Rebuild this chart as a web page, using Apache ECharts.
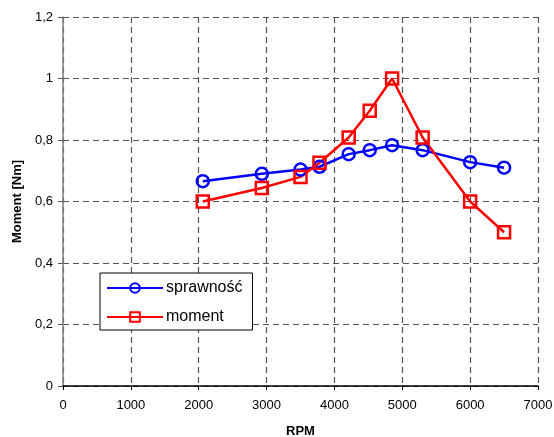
<!DOCTYPE html>
<html>
<head>
<meta charset="utf-8">
<script src="https://cdn.jsdelivr.net/npm/echarts@6/dist/echarts.min.js"></script>
<style>
  html, body { margin: 0; padding: 0; background: #fff; }
  #chart { width: 554px; height: 437px; }
</style>
</head>
<body>
<div id="chart"></div>
<script>
// Engine speed (RPM) for each measurement point
const rpm = [2060, 2930, 3500, 3780, 4210, 4520, 4850, 5300, 6000, 6500];
// Efficiency series
const sprawnosc = [0.666, 0.690, 0.704, 0.713, 0.754, 0.767, 0.783, 0.767, 0.728, 0.710];
// Torque series [Nm]
const moment = [0.600, 0.644, 0.680, 0.726, 0.808, 0.895, 1.000, 0.808, 0.600, 0.500];

const seriesNames = ['sprawność', 'moment'];
const xTicks = { min: 0, max: 7000, interval: 1000 };
const yTicks = { min: 0, max: 1.2, interval: 0.2 };

const FONT = '"Liberation Sans", Arial, sans-serif';

function pairs(xs, ys) {
  return xs.map((x, i) => [x, ys[i]]);
}

function fmtComma(v) {
  return String(Math.round(v * 10) / 10).replace('.', ',');
}

function fmtPlain(v) {
  return String(Math.round(v));
}

const chart = echarts.init(document.getElementById('chart'), null, { renderer: 'canvas' });

chart.setOption({
  backgroundColor: '#ffffff',
  animation: false,
  grid: { left: 63, right: 16, top: 17, bottom: 51, containLabel: false, outerBoundsMode: 'none' },
  legend: {
    orient: 'vertical',
    left: 100,
    top: 273,
    data: seriesNames,
    backgroundColor: '#ffffff',
    borderColor: '#000000',
    borderWidth: 1,
    borderRadius: 0,
    padding: [7, 10, 5, 6],
    itemWidth: 56,
    itemHeight: 12,
    itemGap: 13,
    textStyle: { fontFamily: FONT, fontSize: 16, color: '#000000', padding: [0, 0, 0, -2] }
  },
  xAxis: {
    type: 'value',
    min: xTicks.min,
    max: xTicks.max,
    interval: xTicks.interval,
    name: 'RPM',
    nameLocation: 'middle',
    nameGap: 39,
    nameTextStyle: { fontFamily: FONT, fontSize: 13, fontWeight: 'bold', color: '#000000' },
    axisLine: { show: true, onZero: false, lineStyle: { color: '#000000', width: 1.5 } },
    axisTick: { show: true, length: 4, lineStyle: { color: '#000000' } },
    axisLabel: { fontFamily: FONT, fontSize: 13, color: '#000000', margin: 13, formatter: fmtPlain },
    splitLine: { show: true, lineStyle: { color: '#555555', type: [6, 4], width: 1.2 } }
  },
  yAxis: {
    type: 'value',
    min: yTicks.min,
    max: yTicks.max,
    interval: yTicks.interval,
    name: 'Moment [Nm]',
    nameLocation: 'middle',
    nameGap: 38,
    nameTextStyle: { fontFamily: FONT, fontSize: 13, fontWeight: 'bold', color: '#000000' },
    axisLine: { show: true, lineStyle: { color: '#7f7f7f', width: 1.5 } },
    axisTick: { show: true, length: 5, lineStyle: { color: '#555555' } },
    axisLabel: { fontFamily: FONT, fontSize: 13, color: '#000000', margin: 10, formatter: fmtComma },
    splitLine: { show: true, lineStyle: { color: '#555555', type: [6, 4], width: 1.2 } }
  },
  series: [
    {
      name: seriesNames[0],
      type: 'line',
      data: pairs(rpm, sprawnosc),
      symbol: 'circle',
      symbolSize: 12,
      lineStyle: { color: '#0000ff', width: 2.5 },
      itemStyle: { color: 'rgba(0,0,0,0)', borderColor: '#0000ff', borderWidth: 2.5 },
      emphasis: { disabled: true }
    },
    {
      name: seriesNames[1],
      type: 'line',
      data: pairs(rpm, moment),
      symbol: 'rect',
      symbolSize: 12,
      lineStyle: { color: '#ff0000', width: 2.5 },
      itemStyle: { color: 'rgba(0,0,0,0)', borderColor: '#ff0000', borderWidth: 2.5 },
      emphasis: { disabled: true }
    }
  ]
});
</script>
</body>
</html>
